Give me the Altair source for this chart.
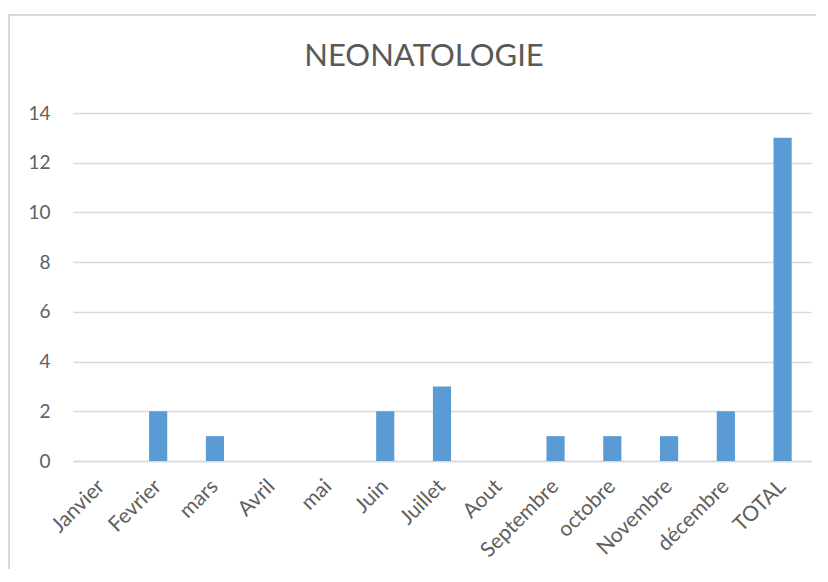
import altair as alt
import pandas as pd

months = ["Janvier", "Fevrier", "mars", "Avril", "mai", "Juin", "Juillet",
          "Aout", "Septembre", "octobre", "Novembre", "décembre", "TOTAL"]
values = [0, 2, 1, 0, 0, 2, 3, 0, 1, 1, 1, 2, 13]
title_text = ["NEONATOLOGIE"]

df = pd.DataFrame({"mois": months, "valeur": values})

FONT = "Lato"
GREY = "#595959"

bars = alt.Chart(df).mark_bar(color="#5B9BD5").encode(
    x=alt.X("mois:N", sort=months,
            scale=alt.Scale(paddingInner=0.68, paddingOuter=0.34),
            axis=alt.Axis(title=None, labelAngle=-45, labelFontSize=21,
                          labelColor="#606060", labelFont=FONT, ticks=False,
                          domainColor="#d9d9d9", domainWidth=1.5,
                          labelPadding=22, labelAlign="right",
                          labelBaseline="middle")),
    y=alt.Y("valeur:Q", scale=alt.Scale(domain=[0, 14], nice=False),
            axis=alt.Axis(title=None, values=list(range(0, 15, 2)),
                          labelFontSize=19, labelColor="#606060", labelFont=FONT,
                          ticks=False, domain=False, gridColor="#d9d9d9",
                          gridWidth=1.5, labelPadding=23)),
)

border = alt.Chart(df).mark_rect(fill=None, stroke="#d9d9d9", strokeWidth=1.5).encode(
    x=alt.value(-64), x2=alt.value(780), y=alt.value(-98), y2=alt.value(490)
)

title = alt.Chart(pd.DataFrame({"t": title_text})).mark_text(
    font=FONT, fontSize=31, color=GREY, align="center", baseline="alphabetic"
).encode(text="t:N", x=alt.value(351), y=alt.value(-47))

chart = alt.layer(bars, border, title).properties(
    width=738, height=348,
    padding={"left": 65, "top": 105, "right": 5, "bottom": 108},
    autosize=alt.AutoSizeParams(type="none"),
).configure_view(stroke=None)

chart.save("out.html", embed_options={"renderer": "svg", "actions": False})
